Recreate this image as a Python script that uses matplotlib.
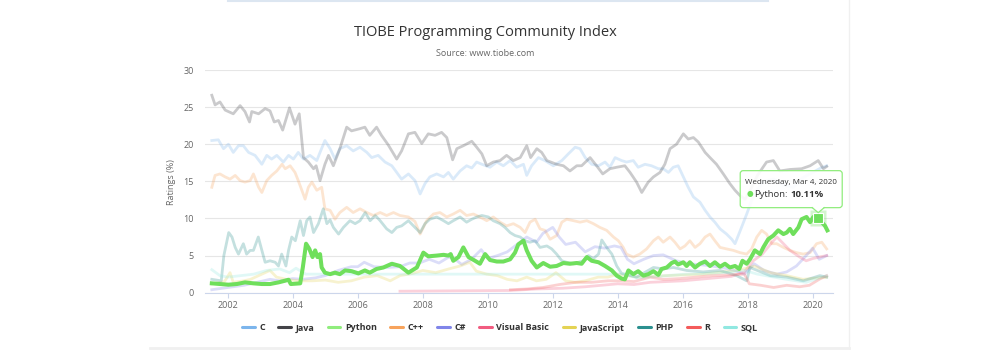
import matplotlib.pyplot as plt
import numpy as np
from matplotlib.lines import Line2D
from matplotlib.patches import FancyBboxPatch, Polygon
from matplotlib.transforms import IdentityTransform

plt.rcParams['font.family'] = ['Open Sans', 'DejaVu Sans']

# Daten (Jahr, Rating %)
java = [(2001.51, 26.6), (2001.61, 25.3), (2001.76, 25.7), (2001.92, 24.6), (2002.17, 24.1), (2002.38, 25.2),
        (2002.53, 24.4), (2002.67, 23.0), (2002.74, 24.4), (2002.95, 24.1), (2003.15, 24.8), (2003.30, 24.5),
        (2003.43, 23.0), (2003.56, 23.2), (2003.69, 21.9), (2003.90, 24.9), (2004.07, 22.7), (2004.20, 24.1),
        (2004.33, 18.2), (2004.48, 17.6), (2004.64, 16.7), (2004.72, 17.1), (2004.84, 15.1), (2004.99, 17.3),
        (2005.10, 18.5), (2005.25, 17.1), (2005.45, 19.4), (2005.66, 22.3), (2005.81, 21.8), (2006.07, 22.1),
        (2006.22, 22.3), (2006.37, 21.2), (2006.58, 22.3), (2006.73, 21.2), (2006.94, 19.9), (2007.20, 18.0),
        (2007.35, 19.1), (2007.56, 21.4), (2007.76, 21.6), (2007.97, 20.1), (2008.17, 21.4), (2008.38, 21.2),
        (2008.58, 21.6), (2008.74, 20.9), (2008.92, 17.9), (2009.05, 19.4), (2009.25, 19.8), (2009.51, 20.4),
        (2009.66, 19.6), (2009.82, 18.7), (2009.97, 17.1), (2010.17, 17.6), (2010.38, 17.8), (2010.58, 18.5),
        (2010.79, 17.8), (2011.00, 18.2), (2011.20, 19.8), (2011.32, 18.2), (2011.51, 19.4), (2011.66, 18.9),
        (2011.82, 17.8), (2012.12, 17.3), (2012.33, 17.1), (2012.53, 16.4), (2012.74, 17.1), (2012.89, 17.1),
        (2013.15, 18.2), (2013.35, 17.1), (2013.54, 16.0), (2013.76, 16.7), (2013.97, 16.9), (2014.22, 17.1),
        (2014.38, 16.2), (2014.58, 14.9), (2014.74, 13.5), (2014.94, 14.9), (2015.10, 15.6), (2015.30, 16.2),
        (2015.45, 17.3), (2015.61, 19.4), (2015.81, 20.0), (2016.02, 21.4), (2016.17, 20.7), (2016.33, 20.9),
        (2016.48, 20.3), (2016.69, 18.9), (2016.84, 18.2), (2017.04, 17.3), (2017.25, 16.0), (2017.45, 14.7),
        (2017.61, 13.8), (2017.76, 13.1), (2017.92, 12.6), (2018.10, 14.0), (2018.30, 15.8), (2018.58, 17.6),
        (2018.79, 17.8), (2018.99, 16.4), (2019.30, 16.6), (2019.66, 16.7), (2019.92, 17.1), (2020.17, 17.8),
        (2020.33, 16.7), (2020.43, 17.0)]

c_lang = [(2001.51, 20.5), (2001.71, 20.6), (2001.87, 19.4), (2002.02, 20.0), (2002.17, 18.9), (2002.33, 19.8),
          (2002.48, 19.8), (2002.64, 18.9), (2002.84, 18.5), (2003.05, 17.3), (2003.20, 18.5), (2003.35, 18.0),
          (2003.51, 18.5), (2003.71, 17.6), (2003.87, 18.5), (2004.02, 18.0), (2004.17, 18.9), (2004.33, 18.0),
          (2004.53, 18.5), (2004.74, 17.8), (2004.84, 18.9), (2004.99, 20.5), (2005.15, 19.4), (2005.30, 18.0),
          (2005.45, 19.4), (2005.66, 19.8), (2005.86, 19.1), (2006.07, 19.6), (2006.28, 18.9), (2006.43, 18.2),
          (2006.63, 18.5), (2006.84, 17.6), (2007.05, 17.1), (2007.20, 16.2), (2007.35, 15.3), (2007.56, 16.0),
          (2007.76, 15.1), (2007.92, 13.3), (2008.07, 14.7), (2008.22, 15.6), (2008.43, 16.0), (2008.64, 15.6),
          (2008.79, 16.2), (2008.94, 15.3), (2009.15, 16.4), (2009.35, 17.1), (2009.51, 16.8), (2009.66, 17.6),
          (2009.82, 17.3), (2010.07, 16.9), (2010.28, 17.6), (2010.48, 17.1), (2010.69, 17.8), (2010.89, 16.9),
          (2011.10, 17.3), (2011.20, 15.8), (2011.35, 17.1), (2011.56, 18.2), (2011.76, 17.8), (2012.02, 17.1),
          (2012.28, 17.8), (2012.48, 18.7), (2012.69, 19.6), (2012.84, 19.4), (2013.00, 18.2), (2013.20, 17.3),
          (2013.41, 17.1), (2013.61, 17.6), (2013.76, 16.9), (2013.92, 18.2), (2014.12, 17.8), (2014.27, 17.6),
          (2014.48, 17.8), (2014.63, 16.9), (2014.84, 17.3), (2015.04, 17.1), (2015.25, 16.7), (2015.40, 16.7),
          (2015.56, 16.2), (2015.71, 16.9), (2015.86, 17.1), (2016.02, 15.6), (2016.17, 14.2), (2016.33, 12.9),
          (2016.53, 12.2), (2016.69, 11.1), (2016.84, 10.2), (2016.99, 9.5), (2017.15, 8.6), (2017.35, 7.9),
          (2017.51, 7.2), (2017.61, 6.6), (2017.71, 7.7), (2017.81, 8.8), (2017.97, 10.6), (2018.12, 12.4),
          (2018.28, 13.8), (2018.50, 15.0), (2018.80, 15.3), (2019.10, 14.5), (2019.40, 14.2), (2019.70, 15.5),
          (2020.00, 16.2), (2020.25, 16.8), (2020.43, 17.1)]

cpp = [(2001.51, 14.2), (2001.61, 15.8), (2001.76, 16.0), (2001.92, 15.6), (2002.07, 15.3), (2002.23, 15.8),
       (2002.38, 15.1), (2002.53, 14.9), (2002.69, 15.1), (2002.79, 16.0), (2002.95, 14.2), (2003.05, 13.5),
       (2003.20, 15.1), (2003.35, 15.8), (2003.51, 16.4), (2003.67, 17.3), (2003.77, 16.7), (2003.92, 17.1),
       (2004.07, 16.2), (2004.17, 15.1), (2004.28, 13.8), (2004.38, 12.6), (2004.48, 14.2), (2004.59, 14.9),
       (2004.74, 13.8), (2004.89, 14.2), (2004.99, 11.3), (2005.15, 11.1), (2005.30, 9.9), (2005.45, 10.8),
       (2005.66, 11.5), (2005.86, 10.8), (2006.07, 11.3), (2006.28, 10.8), (2006.48, 10.4), (2006.69, 10.8),
       (2006.89, 10.4), (2007.10, 10.8), (2007.30, 10.4), (2007.56, 10.2), (2007.76, 9.6), (2007.92, 7.9),
       (2008.12, 9.7), (2008.33, 10.6), (2008.53, 10.8), (2008.74, 10.2), (2008.94, 10.6), (2009.15, 11.1),
       (2009.35, 10.4), (2009.56, 10.6), (2009.76, 10.2), (2009.97, 9.7), (2010.17, 10.2), (2010.38, 9.5),
       (2010.58, 9.0), (2010.79, 9.3), (2011.00, 8.8), (2011.15, 8.1), (2011.30, 9.5), (2011.46, 9.9),
       (2011.61, 8.6), (2011.76, 8.4), (2011.92, 7.2), (2012.12, 7.7), (2012.28, 9.5), (2012.43, 9.9),
       (2012.64, 9.7), (2012.84, 9.5), (2013.05, 9.7), (2013.25, 9.3), (2013.45, 8.8), (2013.66, 8.4),
       (2013.87, 7.5), (2014.02, 7.0), (2014.17, 6.1), (2014.27, 5.2), (2014.48, 4.8), (2014.68, 5.2),
       (2014.89, 5.9), (2015.10, 7.0), (2015.25, 7.5), (2015.40, 6.8), (2015.61, 7.5), (2015.76, 6.8),
       (2015.92, 5.9), (2016.07, 6.3), (2016.22, 7.0), (2016.38, 6.1), (2016.53, 6.6), (2016.69, 7.5),
       (2016.84, 7.9), (2016.99, 7.0), (2017.15, 6.1), (2017.35, 5.9), (2017.56, 5.7), (2017.76, 5.4),
       (2017.97, 5.2), (2018.12, 5.9), (2018.28, 7.5), (2018.43, 8.4), (2018.58, 7.9), (2018.74, 6.6),
       (2018.89, 6.6), (2019.10, 6.1), (2019.30, 5.7), (2019.50, 5.4), (2019.71, 5.2), (2019.92, 5.4),
       (2020.12, 6.6), (2020.28, 6.8), (2020.43, 5.9)]

python = [(2001.51, 1.26), (2001.76, 1.17), (2002.02, 1.08), (2002.28, 1.17), (2002.53, 1.39), (2002.79, 1.26),
          (2003.05, 1.17), (2003.30, 1.17), (2003.56, 1.39), (2003.77, 1.62), (2003.87, 1.75), (2003.94, 1.17),
          (2004.23, 1.26), (2004.31, 3.4), (2004.41, 6.6), (2004.51, 5.9), (2004.61, 4.8), (2004.69, 5.7),
          (2004.76, 4.8), (2004.84, 5.2), (2004.89, 3.4), (2004.99, 2.7), (2005.15, 2.5), (2005.30, 2.7),
          (2005.45, 2.5), (2005.61, 3.0), (2005.81, 2.9), (2006.02, 2.6), (2006.22, 3.0), (2006.37, 2.7),
          (2006.58, 3.2), (2006.79, 3.4), (2007.05, 3.9), (2007.30, 3.6), (2007.56, 2.7), (2007.82, 3.4),
          (2008.02, 5.4), (2008.17, 4.9), (2008.43, 5.0), (2008.64, 5.1), (2008.79, 5.0), (2008.86, 5.2),
          (2008.94, 4.3), (2009.10, 4.8), (2009.25, 6.1), (2009.41, 4.8), (2009.61, 4.3), (2009.76, 3.9),
          (2009.92, 5.2), (2010.07, 4.4), (2010.28, 4.2), (2010.48, 4.2), (2010.69, 4.5), (2010.84, 5.4),
          (2010.94, 6.5), (2011.10, 7.0), (2011.20, 5.7), (2011.35, 4.3), (2011.51, 3.4), (2011.71, 4.0),
          (2011.92, 3.5), (2012.12, 3.6), (2012.33, 4.0), (2012.53, 3.9), (2012.74, 4.0), (2012.89, 3.9),
          (2013.05, 4.8), (2013.20, 4.3), (2013.41, 4.1), (2013.61, 3.6), (2013.82, 3.0), (2013.97, 2.3),
          (2014.12, 1.9), (2014.22, 1.8), (2014.33, 3.0), (2014.48, 2.5), (2014.63, 2.9), (2014.79, 2.3),
          (2014.94, 2.5), (2015.10, 2.9), (2015.25, 2.4), (2015.35, 3.2), (2015.51, 3.4), (2015.66, 4.0),
          (2015.76, 4.2), (2015.86, 3.8), (2016.02, 4.1), (2016.12, 3.6), (2016.22, 4.1), (2016.38, 3.4),
          (2016.53, 3.9), (2016.69, 4.2), (2016.84, 3.6), (2016.99, 4.1), (2017.15, 3.5), (2017.30, 3.9),
          (2017.45, 3.4), (2017.61, 3.6), (2017.74, 3.2), (2017.84, 4.3), (2017.97, 3.9), (2018.07, 4.5),
          (2018.22, 5.7), (2018.38, 5.2), (2018.48, 6.1), (2018.63, 7.2), (2018.79, 7.7), (2018.94, 8.4),
          (2019.10, 7.9), (2019.20, 8.1), (2019.30, 8.6), (2019.40, 7.9), (2019.56, 8.8), (2019.66, 9.9),
          (2019.81, 10.2), (2019.92, 9.5), (2020.02, 10.2), (2020.17, 10.11), (2020.28, 9.5), (2020.38, 9.0),
          (2020.45, 8.4)]

csharp = [(2001.51, 0.4), (2002.00, 0.7), (2002.50, 1.0), (2003.00, 1.5), (2003.30, 1.8), (2003.60, 1.6),
          (2004.00, 1.9), (2004.30, 1.8), (2004.70, 2.0), (2005.00, 2.3), (2005.40, 3.0), (2005.80, 3.5),
          (2006.00, 3.5), (2006.20, 4.1), (2006.50, 3.5), (2006.90, 3.4), (2007.30, 3.5), (2007.60, 4.0),
          (2007.90, 4.0), (2008.20, 4.5), (2008.50, 4.0), (2008.80, 4.8), (2009.00, 4.5), (2009.20, 3.8),
          (2009.50, 4.5), (2009.80, 5.8), (2010.00, 4.6), (2010.30, 5.0), (2010.60, 5.5), (2010.90, 6.5),
          (2011.20, 7.5), (2011.50, 6.8), (2011.70, 8.0), (2012.00, 8.8), (2012.20, 7.5), (2012.40, 6.5),
          (2012.70, 6.8), (2013.00, 5.5), (2013.30, 6.2), (2013.60, 6.0), (2013.90, 6.3), (2014.10, 6.1),
          (2014.30, 4.5), (2014.50, 3.9), (2014.80, 4.5), (2015.10, 5.0), (2015.40, 5.1), (2015.80, 4.3),
          (2016.20, 3.9), (2016.70, 3.7), (2017.20, 3.4), (2017.60, 3.0), (2017.90, 2.5), (2018.20, 3.9),
          (2018.50, 3.0), (2018.90, 2.5), (2019.20, 2.8), (2019.50, 3.6), (2019.80, 5.0), (2020.00, 6.0),
          (2020.20, 4.5), (2020.43, 5.0)]

visual_basic = [(2007.30, 0.2), (2010.70, 0.3), (2011.50, 0.5), (2012.30, 0.6), (2013.00, 0.8), (2013.50, 1.0),
                (2014.00, 1.2), (2014.50, 1.1), (2015.00, 1.4), (2015.50, 1.5), (2016.00, 1.6), (2016.50, 1.8),
                (2017.00, 2.0), (2017.50, 2.2), (2017.90, 2.8), (2018.17, 4.3), (2018.45, 5.2), (2018.79, 7.0),
                (2018.90, 7.5), (2019.10, 6.6), (2019.30, 5.7), (2019.60, 4.8), (2019.80, 4.3), (2020.00, 4.6),
                (2020.20, 4.8), (2020.43, 5.0)]

javascript = [(2001.51, 1.2), (2001.90, 1.5), (2002.07, 2.7), (2002.17, 1.4), (2002.50, 1.6), (2002.70, 1.8),
              (2003.05, 2.5), (2003.30, 3.0), (2003.50, 2.1), (2003.80, 1.8), (2004.20, 1.6), (2004.60, 1.6),
              (2005.00, 1.7), (2005.40, 1.4), (2005.80, 1.6), (2006.20, 2.1), (2006.60, 2.3), (2007.00, 1.6),
              (2007.30, 2.3), (2007.70, 2.6), (2008.00, 3.0), (2008.40, 2.7), (2008.80, 3.2), (2009.15, 3.6),
              (2009.45, 4.1), (2009.65, 2.9), (2009.97, 2.5), (2010.30, 2.3), (2010.60, 1.8), (2010.90, 1.6),
              (2011.20, 2.1), (2011.50, 1.6), (2011.80, 1.8), (2012.10, 2.7), (2012.40, 1.6), (2012.70, 1.4),
              (2013.00, 1.6), (2013.40, 2.1), (2013.70, 2.1), (2014.00, 2.5), (2014.60, 2.1), (2015.50, 2.3),
              (2016.60, 2.5), (2017.70, 3.0), (2018.20, 3.6), (2018.70, 2.7), (2019.20, 2.3), (2019.70, 1.8),
              (2020.43, 2.1)]

php = [(2001.51, 1.8), (2001.80, 1.6), (2001.88, 5.0), (2002.03, 8.1), (2002.13, 7.5), (2002.23, 6.1),
       (2002.33, 5.2), (2002.48, 6.6), (2002.58, 5.2), (2002.69, 5.7), (2002.79, 5.7), (2002.94, 7.5),
       (2003.05, 5.7), (2003.15, 4.1), (2003.30, 4.3), (2003.46, 4.1), (2003.56, 3.6), (2003.66, 5.2),
       (2003.79, 3.6), (2003.87, 5.7), (2003.97, 7.5), (2004.08, 7.0), (2004.23, 9.7), (2004.33, 7.7),
       (2004.43, 9.7), (2004.53, 10.2), (2004.64, 8.1), (2004.79, 9.3), (2004.94, 11.3), (2005.05, 9.3),
       (2005.15, 9.8), (2005.25, 8.8), (2005.41, 7.9), (2005.56, 8.8), (2005.76, 9.7), (2005.92, 9.3),
       (2006.07, 9.7), (2006.23, 10.8), (2006.38, 9.7), (2006.54, 10.4), (2006.69, 9.7), (2006.89, 8.6),
       (2007.05, 8.1), (2007.20, 8.8), (2007.35, 9.0), (2007.56, 9.7), (2007.76, 8.8), (2007.92, 8.1),
       (2008.07, 9.3), (2008.22, 9.9), (2008.43, 10.2), (2008.64, 9.7), (2008.79, 9.3), (2008.94, 9.7),
       (2009.15, 10.2), (2009.35, 9.5), (2009.51, 9.9), (2009.66, 10.2), (2009.82, 10.4), (2010.02, 10.2),
       (2010.17, 9.7), (2010.38, 9.3), (2010.53, 8.8), (2010.69, 8.1), (2010.84, 7.7), (2011.00, 7.5),
       (2011.15, 7.0), (2011.30, 6.8), (2011.46, 7.0), (2011.61, 6.1), (2011.82, 6.3), (2011.97, 5.9),
       (2012.12, 5.2), (2012.28, 4.3), (2012.43, 4.1), (2012.64, 3.9), (2012.79, 4.1), (2012.94, 4.3),
       (2013.10, 5.0), (2013.25, 4.6), (2013.41, 5.2), (2013.51, 7.1), (2013.66, 6.1), (2013.82, 5.2),
       (2013.97, 3.6), (2014.12, 2.6), (2014.58, 2.1), (2015.10, 3.4), (2015.40, 3.2), (2015.71, 3.4),
       (2016.12, 3.0), (2016.63, 2.8), (2017.15, 3.0), (2017.66, 2.3), (2017.97, 1.6), (2018.07, 3.4),
       (2018.69, 2.3), (2019.20, 2.1), (2019.71, 1.6), (2020.22, 2.3), (2020.43, 2.1)]

r_lang = [(2010.70, 0.4), (2011.20, 0.5), (2011.70, 0.7), (2012.20, 1.1), (2012.70, 1.4), (2013.20, 1.4),
          (2013.70, 1.6), (2014.10, 1.6), (2014.50, 1.5), (2015.00, 2.1), (2015.40, 1.8), (2015.90, 1.9),
          (2016.40, 2.1), (2016.90, 2.3), (2017.40, 2.4), (2017.90, 2.5), (2018.05, 1.2), (2018.40, 1.0),
          (2018.80, 0.7), (2019.20, 1.0), (2019.60, 0.8), (2019.90, 1.0), (2020.20, 1.8), (2020.43, 2.3)]

sql = [(2001.51, 3.1), (2001.76, 2.3), (2002.00, 2.1), (2002.40, 2.3), (2002.80, 2.5), (2003.20, 3.0),
       (2003.60, 3.2), (2003.90, 2.7), (2004.10, 3.3), (2004.40, 2.5), (2014.20, 2.5), (2014.60, 2.0),
       (2015.20, 2.2), (2016.10, 2.5), (2017.20, 2.7), (2017.90, 3.0), (2018.30, 2.5), (2019.20, 1.8),
       (2019.80, 1.4), (2020.43, 2.3)]

names = ['C', 'Java', 'Python', 'C++', 'C#', 'Visual Basic', 'JavaScript', 'PHP', 'R', 'SQL']
series = [c_lang, java, python, cpp, csharp, visual_basic, javascript, php, r_lang, sql]
colors = ['#7cb5ec', '#434348', '#90ed7d', '#f7a35c', '#8085e9', '#f15c80', '#e4d354', '#2b908f', '#f45b5b', '#91e8e1']
python_line = '#6fdf5c'

fig = plt.figure(figsize=(10, 3.5), dpi=100)
ax = fig.add_axes([0.205, 0.1637, 0.628, 0.6363])

for name, pts, col in zip(names, series, colors):
    x, y = np.array(pts).T
    if name == 'Python':
        ax.plot(x, y, color=python_line, lw=2.9, zorder=5, solid_joinstyle='round')
    else:
        ax.plot(x, y, color=col, lw=2.0, alpha=0.28, zorder=3, solid_joinstyle='round')

# Hover-Punkt
hx, hy = 2020.17, 10.11
ax.plot(hx, hy, 's', ms=12, color=python_line, alpha=0.3, mec='none', zorder=6)
ax.plot(hx, hy, 's', ms=7, color=python_line, mec='white', mew=0.8, zorder=7)

ax.set_xlim(2001.30, 2020.625)
ax.set_ylim(0, 30)
ax.set_yticks(np.arange(0, 31, 5))
ax.set_xticks(np.arange(2002, 2021, 2))
ax.grid(True, axis='y', color='#e6e6e6', lw=0.8)
ax.set_axisbelow(True)
for s in ['top', 'right', 'left']:
    ax.spines[s].set_visible(False)
ax.spines['bottom'].set_color('#ccd6eb')
ax.spines['bottom'].set_linewidth(0.8)
ax.tick_params(axis='y', length=0, pad=8, labelsize=6.5, labelcolor='#666666')
ax.tick_params(axis='x', length=3.5, width=0.8, color='#ccd6eb', pad=2.5, labelsize=6.5, labelcolor='#666666')

fig.text(0.1717, 1 - 181.7 / 350, 'Ratings (%)', rotation=90, ha='center', va='center', fontsize=6.5, color='#666666')
fig.text(0.485, 1 - 32 / 350, 'TIOBE Programming Community Index', ha='center', va='center', fontsize=10.5, color='#333333')
fig.text(0.485, 1 - 53 / 350, 'Source: www.tiobe.com', ha='center', va='center', fontsize=6.5, color='#666666')

# Tooltip
fig.canvas.draw()
renderer = fig.canvas.get_renderer()
px, py = ax.transData.transform((hx, hy))
left, right = px - 78, px + 24
bottom, top = py + 10, py + 47
ident = IdentityTransform()
box = FancyBboxPatch((left, bottom), right - left, top - bottom, boxstyle='round,pad=0,rounding_size=3',
                     fc=(1, 1, 1, 0.9), ec='#90ed7d', lw=0.9, transform=ident, zorder=10)
fig.add_artist(box)
tri = Polygon([(px - 6, bottom + 0.8), (px, py + 5), (px + 6, bottom + 0.8)], closed=True,
              fc='white', ec='none', transform=ident, zorder=11)
fig.add_artist(tri)
fig.add_artist(Line2D([px - 6, px, px + 6], [bottom, py + 5, bottom], color='#90ed7d', lw=0.9,
                      transform=ident, zorder=12))
fig.text(left + 5, top - 12, 'Wednesday, Mar 4, 2020', transform=ident, fontsize=5.8, color='#333333',
         va='center', zorder=13)
fig.text(left + 6, top - 24, '\u25cf', transform=ident, fontsize=5.5, color=python_line, va='center', zorder=13)
lab = fig.text(left + 14, top - 24, 'Python:', transform=ident, fontsize=6.8, color='#333333', va='center',
               zorder=13)
lab_w = lab.get_window_extent(renderer).width
fig.text(left + 14 + lab_w + 3, top - 24, '10.11%', transform=ident, fontsize=6.8, color='#333333',
         va='center', fontweight='bold', zorder=13)

# Legende
handles = [Line2D([], [], color=c, lw=2.2, solid_capstyle='round') for c in colors]
fig.legend(handles, names, loc='center', bbox_to_anchor=(0.5, 1 - 328 / 350), ncol=10, frameon=False,
           prop={'weight': 'bold', 'size': 6.5}, labelcolor='#333333', handlelength=1.4,
           handletextpad=0.5, columnspacing=1.5)

# Seitenrahmen
fig.add_artist(Line2D([0.228, 0.768], [0.997, 0.997], color='#dce6f1', lw=1.5))
fig.add_artist(Line2D([0.849, 0.849], [0, 1], color='#f0f0f0', lw=1))
fig.add_artist(Line2D([0.15, 0.849], [0.007, 0.007], color='#f0f0f0', lw=2))

plt.savefig('out.png', dpi=100)
